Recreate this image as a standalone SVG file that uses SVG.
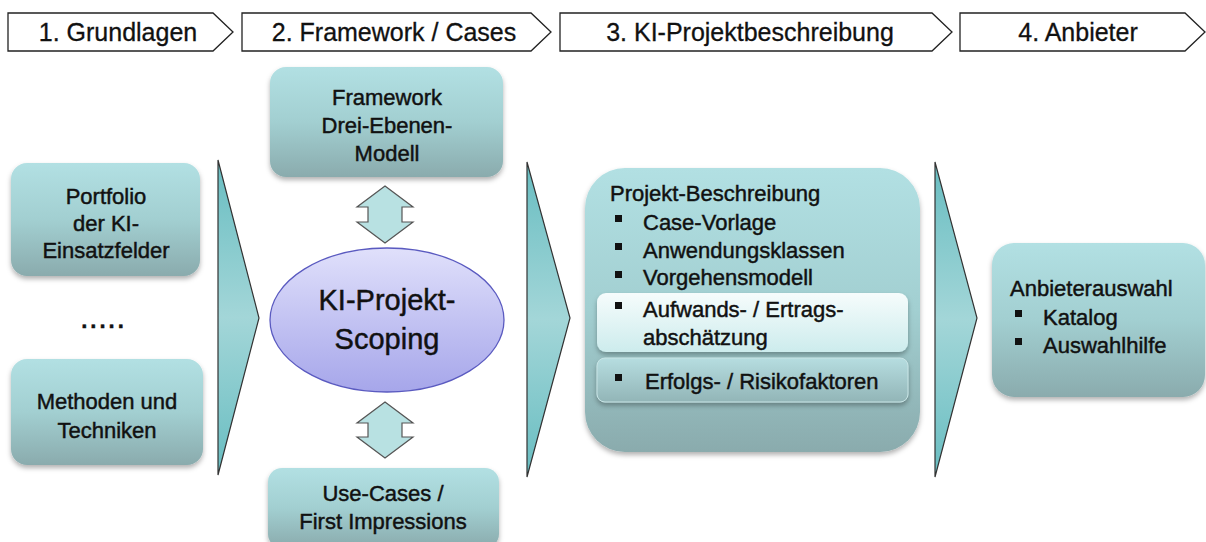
<svg xmlns="http://www.w3.org/2000/svg" width="1206" height="542" viewBox="0 0 1206 542">
<defs>
<linearGradient id="gBox" x1="0" y1="0" x2="0" y2="1">
<stop offset="0" stop-color="#b2e0e3"/>
<stop offset="0.5" stop-color="#a2cfd1"/>
<stop offset="1" stop-color="#8aabad"/>
</linearGradient>
<linearGradient id="gChev" x1="0" y1="0" x2="0" y2="1">
<stop offset="0" stop-color="#68bdc1"/>
<stop offset="0.5" stop-color="#a3d6d8"/>
<stop offset="1" stop-color="#68bdc1"/>
</linearGradient>
<linearGradient id="gEll" x1="0" y1="0" x2="0" y2="1">
<stop offset="0" stop-color="#e0e0fb"/>
<stop offset="1" stop-color="#a6a6ea"/>
</linearGradient>
<linearGradient id="gHi" x1="0" y1="0" x2="0" y2="1">
<stop offset="0" stop-color="#f6fcfc"/>
<stop offset="1" stop-color="#cdeced"/>
</linearGradient>
<linearGradient id="gSub" x1="0" y1="0" x2="0" y2="1">
<stop offset="0" stop-color="#b6dde0"/>
<stop offset="1" stop-color="#92b5b7"/>
</linearGradient>
<filter id="sh" x="-10%" y="-10%" width="120%" height="130%">
<feDropShadow dx="0" dy="3" stdDeviation="2.5" flood-color="#000" flood-opacity="0.3"/>
</filter>
</defs>
<style>
.hdr{fill:#fff;stroke:#222;stroke-width:1.3}
.ht{font-family:"Liberation Sans",Arial,sans-serif;font-size:25px;fill:#111;stroke:#111;stroke-width:0.3;text-anchor:middle}
.box{fill:url(#gBox);filter:url(#sh)}
.t{font-family:"Liberation Sans",Arial,sans-serif;font-size:22px;fill:#111;stroke:#111;stroke-width:0.45}
.c{text-anchor:middle}
.chev{fill:url(#gChev);stroke:#333;stroke-width:1.2}
.dbl{fill:#b8e1e2;stroke:#555;stroke-width:1.2}
.bul{fill:#111}
</style>

<g id="header">
<g id="h1"><path class="hdr" d="M8,13 H213 L233,32 L213,51 H8 Z"/><text class="ht" x="118" y="41">1. Grundlagen</text></g>
<g id="h2"><path class="hdr" d="M242,13 H531 L551,32 L531,51 H242 Z"/><text class="ht" x="394" y="41">2. Framework / Cases</text></g>
<g id="h3"><path class="hdr" d="M560,13 H932 L952,32 L932,51 H560 Z"/><text class="ht" x="750" y="41">3. KI-Projektbeschreibung</text></g>
<g id="h4"><path class="hdr" d="M960,13 H1185 L1205,32 L1185,51 H960 Z"/><text class="ht" x="1078" y="41">4. Anbieter</text></g>
</g>

<g id="connectors">
<path class="chev" d="M218,160 L259,318 L218,475 Z"/>
<path class="chev" d="M527,162 L570,318 L527,477 Z"/>
<path class="chev" d="M935,162 L977,318 L935,477 Z"/>
<path class="dbl" d="M385,186 L413,207 L402,207 L402,222 L413,222 L385,243 L357,222 L368,222 L368,207 L357,207 Z"/>
<path class="dbl" d="M385,402 L413,423 L402,423 L402,437 L413,437 L385,458 L357,437 L368,437 L368,423 L357,423 Z"/>
</g>

<g id="portfolio">
<rect class="box" x="11" y="163" width="189" height="113" rx="16"/>
<text class="t c" x="106" y="204">Portfolio</text>
<text class="t c" x="106" y="231">der KI-</text>
<text class="t c" x="106" y="258">Einsatzfelder</text>
</g>

<g id="dots"><text class="t c" x="104" y="328" style="font-weight:bold;letter-spacing:3px">.....</text></g>

<g id="methoden">
<rect class="box" x="11" y="359" width="192" height="106" rx="16"/>
<text class="t c" x="107" y="409">Methoden und</text>
<text class="t c" x="107" y="438">Techniken</text>
</g>

<g id="framework">
<rect class="box" x="270" y="67" width="233" height="110" rx="16"/>
<text class="t c" x="387" y="105">Framework</text>
<text class="t c" x="387" y="133">Drei-Ebenen-</text>
<text class="t c" x="387" y="161">Modell</text>
</g>

<g id="scoping">
<ellipse cx="387" cy="320" rx="117" ry="72" fill="url(#gEll)" stroke="#5a5ac0" stroke-width="1.3"/>
<text class="t c" x="387" y="310" style="font-size:29px">KI-Projekt-</text>
<text class="t c" x="387" y="349" style="font-size:29px">Scoping</text>
</g>

<g id="usecases">
<rect class="box" x="268" y="468" width="231" height="80" rx="14"/>
<text class="t c" x="383" y="501">Use-Cases /</text>
<text class="t c" x="383" y="529">First Impressions</text>
</g>

<g id="projekt">
<rect class="box" x="585" y="168" width="335" height="284" rx="40"/>
<text class="t" x="610" y="201">Projekt-Beschreibung</text>
<rect class="bul" x="615" y="215" width="7" height="7"/><text class="t" x="643" y="230">Case-Vorlage</text>
<rect class="bul" x="615" y="243" width="7" height="7"/><text class="t" x="643" y="258">Anwendungsklassen</text>
<rect class="bul" x="615" y="271" width="7" height="7"/><text class="t" x="643" y="285">Vorgehensmodell</text>
<rect x="597" y="293" width="311" height="59" rx="9" fill="url(#gHi)" filter="url(#sh)"/>
<rect class="bul" x="615" y="302" width="7" height="7"/><text class="t" x="643" y="317">Aufwands- / Ertrags-</text>
<text class="t" x="643" y="345">abschätzung</text>
<rect x="597" y="358" width="311" height="44" rx="8" fill="url(#gSub)" stroke="#c8e4e5" stroke-width="1" filter="url(#sh)"/>
<rect class="bul" x="615" y="374" width="7" height="7"/><text class="t" x="645" y="389">Erfolgs- / Risikofaktoren</text>
</g>

<g id="anbieter">
<rect class="box" x="992" y="243" width="213" height="154" rx="22"/>
<text class="t" x="1010" y="296">Anbieterauswahl</text>
<rect class="bul" x="1015" y="310" width="7" height="7"/><text class="t" x="1043" y="325">Katalog</text>
<rect class="bul" x="1015" y="338" width="7" height="7"/><text class="t" x="1043" y="353">Auswahlhilfe</text>
</g>
</svg>
